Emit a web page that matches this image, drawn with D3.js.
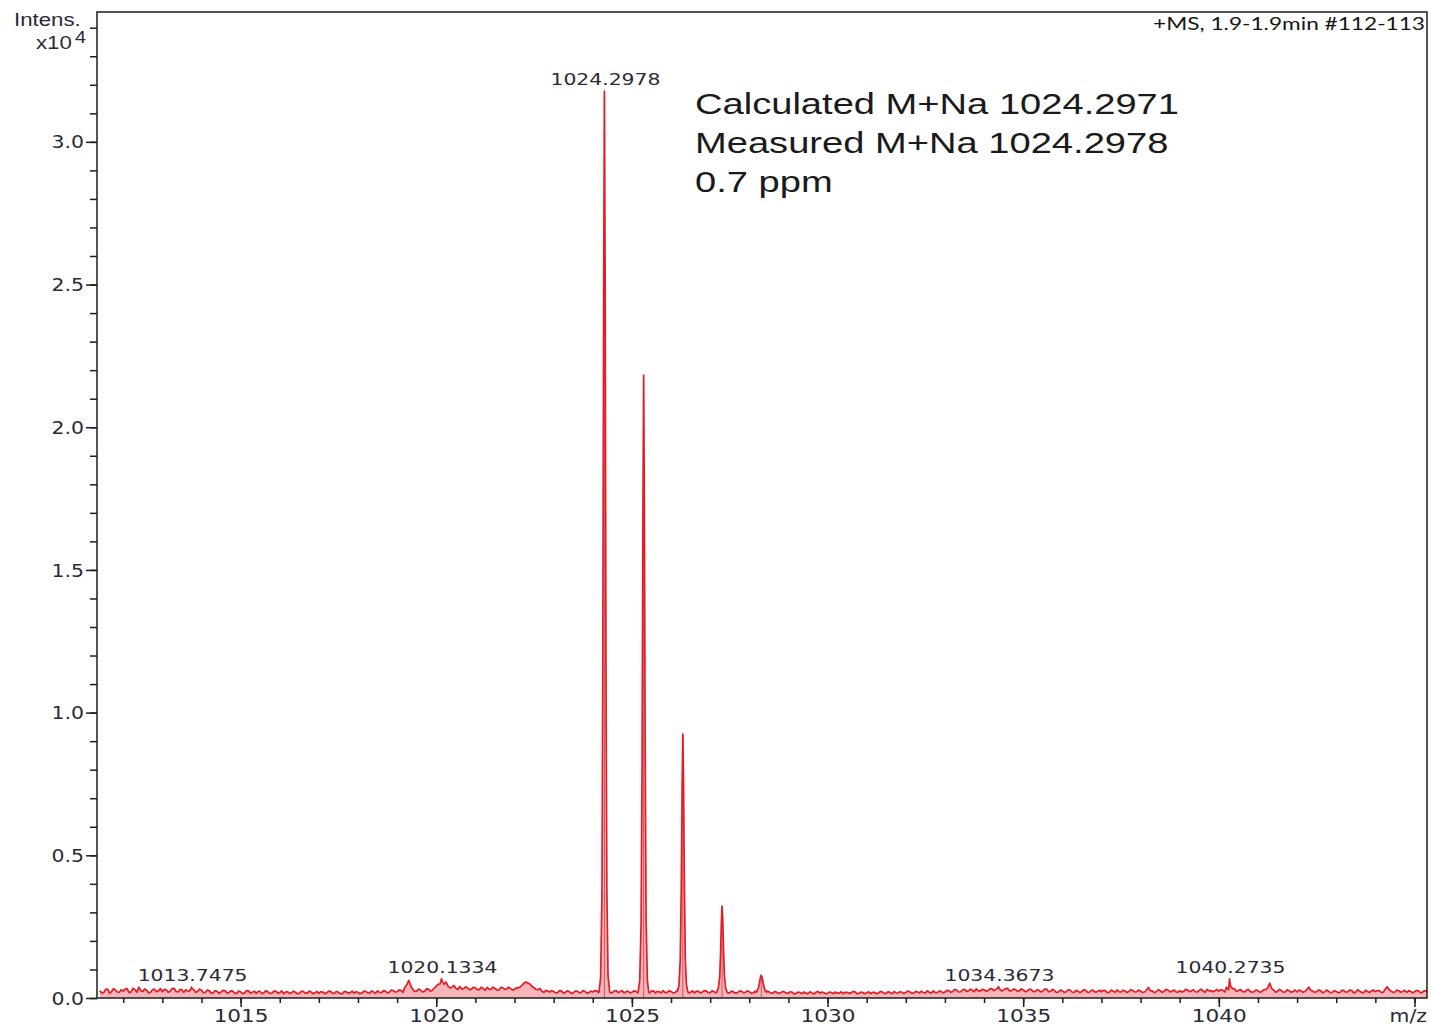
<!DOCTYPE html>
<html>
<head>
<meta charset="utf-8">
<script src="https://cdn.jsdelivr.net/npm/d3@7"></script>
<style>
  body { margin: 0; background: #fff; }
  svg { display: block; }
</style>
</head>
<body>
<svg id="chart" width="1431" height="1028"></svg>
<script>
// ---- Spectrum data (intensity in counts, m/z in Th) ----

// Baseline noise sampled every 0.1 m/z starting at 1011.40
const noiseStartMz = 1011.4;
const noiseStepMz = 0.1;
const baselineNoise = [
  260, 190, 310, 220, 280, 200,
  240, 330, 210, 290, 380, 230, 270, 200, 310, 250,
  220, 290, 240, 340, 210, 280, 290, 250, 300, 230,
  270, 200, 250, 180, 230, 210, 260, 190, 240, 170,
  220, 180, 250, 200, 160, 230, 190, 210, 170, 240,
  190, 150, 220, 180, 200, 160, 230, 170, 210, 180,
  160, 210, 180, 230, 170, 200, 150, 220, 190, 170,
  200, 180, 230, 170, 210, 250, 190, 240, 200, 260,
  220, 270, 380, 620, 300, 240, 280, 230, 310, 270,
  420, 500, 480, 420, 380, 340, 400, 330, 360, 310,
  350, 290, 330, 370, 300, 340, 280, 360, 310, 330,
  300, 350, 460, 560, 480, 360, 290, 240, 270, 210,
  230, 190, 250, 200, 220, 180, 240, 200, 230, 190,
  210, 250, 200, 240, 230, 190, 260, 220, 180, 240,
  200, 230, 190, 250, 210, 240, 180, 220, 260, 200,
  230, 190, 250, 210, 240, 200, 180, 230, 210, 250,
  190, 220, 240, 200, 230, 180, 210, 190, 240, 200,
  220, 180, 230, 210, 190, 220, 170, 200, 180, 210,
  170, 200, 160, 190, 210, 150, 180, 200, 170, 190,
  160, 190, 210, 170, 150, 200, 180, 220, 160, 190,
  180, 150, 200, 170, 210, 160, 190, 230, 170, 200,
  190, 220, 170, 210, 240, 180, 200, 250, 190, 230,
  210, 260, 230, 280, 220, 300, 250, 270, 320, 240,
  290, 260, 330, 300, 310, 280, 340, 260, 300, 250,
  280, 240, 300, 220, 270, 250, 310, 230, 260, 210,
  250, 220, 280, 200, 240, 230, 270, 210, 260, 230,
  220, 260, 200, 240, 280, 210, 250, 230, 270, 220,
  240, 210, 370, 250, 220, 260, 230, 280, 240, 220,
  260, 230, 290, 250, 220, 270, 240, 300, 260, 250,
  240, 280, 380, 420, 320, 260, 230, 270, 240, 220,
  260, 230, 290, 520, 280, 240, 260, 220, 250, 230,
  210, 250, 230, 380, 240, 220, 260, 210, 240, 200,
  230, 200, 250, 220, 260, 210, 240, 190, 230, 250,
  220, 260, 200, 390, 240, 210, 250, 230, 200, 240,
  220, 260, 200, 240
];

// Intermediate noise samples, every 0.1 m/z starting at 1011.45
const noiseMidStartMz = 1011.45;
const baselineNoiseMid = [
  180, 300, 170, 330, 210, 290,
  310, 190, 340, 200, 250, 320, 180, 290, 220, 330,
  300, 200, 330, 230, 300, 200, 240, 330, 200, 310,
  190, 280, 170, 260, 160, 270, 180, 250, 160, 240,
  150, 260, 170, 240, 230, 150, 260, 160, 240, 170,
  250, 210, 160, 240, 150, 230, 170, 240, 150, 230,
  220, 150, 240, 160, 230, 150, 230, 170, 240, 220,
  150, 240, 180, 250, 170, 200, 260, 180, 280, 210,
  280, 200, 470, 420, 230, 310, 210, 320, 240, 350,
  480, 600, 560, 350, 440, 300, 320, 390, 290, 380,
  290, 380, 270, 310, 380, 280, 370, 300, 380, 280,
  360, 400, 530, 520, 400, 300, 330, 200, 240, 260,
  180, 260, 170, 250, 160, 240, 190, 260, 170, 240,
  260, 190, 250, 180, 180, 250, 190, 260, 220, 180,
  250, 180, 260, 190, 180, 250, 230, 180, 190, 250,
  180, 250, 200, 250, 180, 250, 240, 180, 260, 190,
  250, 180, 190, 240, 180, 240, 170, 240, 190, 250,
  170, 240, 190, 250, 240, 170, 230, 160, 230, 170,
  220, 140, 210, 150, 170, 220, 140, 230, 210, 150,
  210, 150, 170, 220, 200, 160, 230, 150, 210, 150,
  220, 200, 150, 230, 160, 220, 150, 180, 220, 160,
  240, 170, 230, 180, 190, 250, 170, 200, 240, 180,
  270, 200, 300, 210, 290, 230, 310, 220, 260, 300,
  240, 320, 260, 350, 250, 330, 250, 310, 240, 320,
  220, 300, 230, 290, 210, 310, 220, 300, 200, 280,
  200, 290, 210, 270, 190, 290, 200, 280, 200, 270,
  270, 190, 280, 200, 220, 270, 190, 290, 210, 280,
  200, 280, 250, 190, 290, 200, 300, 210, 280, 200,
  210, 300, 220, 290, 210, 310, 200, 250, 220, 300,
  290, 210, 290, 330, 230, 300, 210, 300, 200, 280,
  200, 290, 360, 330, 200, 300, 200, 290, 200, 280,
  280, 200, 300, 270, 200, 280, 190, 280, 190, 260,
  190, 280, 200, 280, 180, 290, 200, 270, 190, 280,
  260, 200, 300, 300, 200, 280, 200, 270, 250, 180,
  260, 190, 260, 200
];

// Isotope cluster apexes [m/z, intensity]
const isotopeApex = [
  [1024.2978, 31780],
  [1025.3000, 21830],
  [1026.3020, 9250],
  [1027.3040, 3220],
  [1028.3060, 800]
];

// Profile points across each isotope peak [m/z, intensity]
const profileM0 = [
  [1024.16, 230], [1024.20, 700], [1024.235, 3600], [1024.255, 11000], [1024.278, 24500],
  [1024.2978, 31780], [1024.317, 25000], [1024.338, 11500], [1024.36, 3800],
  [1024.39, 800], [1024.43, 240]
];
const profileM1 = [
  [1025.16, 220], [1025.20, 600], [1025.235, 2600], [1025.26, 8200], [1025.282, 17000],
  [1025.300, 21830], [1025.318, 17500], [1025.34, 8600], [1025.363, 2800],
  [1025.395, 620], [1025.43, 210]
];
const profileM2 = [
  [1026.16, 230], [1026.20, 420], [1026.235, 1300], [1026.262, 3900], [1026.284, 7400],
  [1026.302, 9250], [1026.32, 7500], [1026.342, 4000], [1026.365, 1350],
  [1026.395, 450], [1026.43, 220]
];
const profileM3 = [
  [1027.17, 210], [1027.21, 360], [1027.245, 760], [1027.268, 1650], [1027.287, 2700],
  [1027.304, 3220], [1027.322, 2750], [1027.342, 1700], [1027.365, 780],
  [1027.395, 360], [1027.43, 220]
];
const profileM4 = [
  [1028.18, 200], [1028.23, 340], [1028.26, 540], [1028.285, 730], [1028.306, 800],
  [1028.33, 710], [1028.36, 490], [1028.40, 280], [1028.44, 200]
];

// Annotated peaks [m/z, intensity]
const labelledPeaks = [
  [1013.7475, 380],
  [1020.1334, 670],
  [1024.2978, 31780],
  [1034.3673, 400],
  [1040.2735, 670]
];

// Axis ticks
const xMajorTicks = [1015, 1020, 1025, 1030, 1035, 1040, 1045];
const xTickLabels = ["1015", "1020", "1025", "1030", "1035", "1040", ""];
const yMajorTicks = [0, 5000, 10000, 15000, 20000, 25000, 30000];
const yTickLabels = ["0.0", "0.5", "1.0", "1.5", "2.0", "2.5", "3.0"];

const annotationLines = [
  "Calculated M+Na 1024.2971",
  "Measured M+Na 1024.2978",
  "0.7 ppm"
];
const scanInfo = "+MS, 1.9-1.9min #112-113";

// ---- Layout ----
const plot = { left: 97, top: 12, right: 1427, bottom: 998 };
const svg = d3.select("#chart");

const x = d3.scaleLinear().domain([1011.33, 1045.32]).range([plot.left, plot.right]);
const y = d3.scaleLinear().domain([0, 34550]).range([plot.bottom, plot.top]);

// Horizontal stretch applied to the text to follow the wide lettering
function stretch(sel, k) {
  sel.each(function () {
    const w = this.getComputedTextLength();
    this.setAttribute("textLength", w * k);
    this.setAttribute("lengthAdjust", "spacingAndGlyphs");
  });
  return sel;
}

// Assemble the spectrum trace
const profiles = [profileM0, profileM1, profileM2, profileM3, profileM4];
const outsideIsotopes = p => !isotopeApex.some(a => Math.abs(p[0] - a[0]) < 0.14);
const noisePts = baselineNoise.map((v, i) => [noiseStartMz + i * noiseStepMz, v])
  .concat(baselineNoiseMid.map((v, i) => [noiseMidStartMz + i * noiseStepMz, v]))
  .filter(outsideIsotopes);
const extraPts = labelledPeaks.filter(p => !isotopeApex.some(a => Math.abs(p[0] - a[0]) < 0.001));
const spectrum = noisePts.concat(...profiles, extraPts).sort((a, b) => a[0] - b[0]);

svg.append("defs").append("clipPath").attr("id", "plotClip")
  .append("rect")
  .attr("x", plot.left).attr("y", plot.top)
  .attr("width", plot.right - plot.left).attr("height", plot.bottom - plot.top);

const traceG = svg.append("g").attr("clip-path", "url(#plotClip)");

traceG.append("path")
  .datum(spectrum)
  .attr("fill", "rgba(236, 70, 80, 0.40)")
  .attr("d", d3.area().x(d => x(d[0])).y0(y(0)).y1(d => y(d[1])));

traceG.selectAll("line.stick")
  .data(isotopeApex)
  .join("line")
  .attr("class", "stick")
  .attr("x1", d => x(d[0])).attr("x2", d => x(d[0]))
  .attr("y1", y(0)).attr("y2", d => y(d[1]))
  .attr("stroke", "#b8303c")
  .attr("stroke-width", 1)
  .attr("opacity", 0.7);

traceG.append("path")
  .datum(spectrum)
  .attr("fill", "none")
  .attr("stroke", "#e31d27")
  .attr("stroke-width", 1.7)
  .attr("stroke-linejoin", "round")
  .attr("d", d3.line().x(d => x(d[0])).y(d => y(d[1])));

// ---- Frame and axes ----
const axisColor = "#1e1e1e";
svg.append("rect")
  .attr("x", plot.left).attr("y", plot.top)
  .attr("width", plot.right - plot.left).attr("height", plot.bottom - plot.top)
  .attr("fill", "none").attr("stroke", axisColor).attr("stroke-width", 1.5);

// x axis
const xAxis = svg.append("g").attr("transform", `translate(0,${plot.bottom})`)
  .call(d3.axisBottom(x).tickValues(d3.range(1012, 1046)).tickSize(5).tickFormat(""));
xAxis.select(".domain").remove();
xAxis.selectAll("line").attr("stroke", axisColor).attr("stroke-width", 1.5);

const xMajor = svg.append("g").attr("transform", `translate(0,${plot.bottom})`)
  .call(d3.axisBottom(x).tickValues(xMajorTicks).tickSize(9)
    .tickFormat((d, i) => xTickLabels[i]));
xMajor.select(".domain").remove();
xMajor.selectAll("line").attr("stroke", axisColor).attr("stroke-width", 1.5);
xMajor.selectAll("text")
  .attr("y", 24).attr("dy", 0)
  .attr("fill", "#2a2a35")
  .attr("font-family", "DejaVu Sans")
  .attr("font-size", 17)
  .call(stretch, 1.27);

// y axis
const yAxis = svg.append("g").attr("transform", `translate(${plot.left},0)`)
  .call(d3.axisLeft(y).tickValues(d3.range(0, 34001, 1000)).tickSize(7).tickFormat(""));
yAxis.select(".domain").remove();
yAxis.selectAll("line").attr("stroke", axisColor).attr("stroke-width", 1.5);

const yMajor = svg.append("g").attr("transform", `translate(${plot.left},0)`)
  .call(d3.axisLeft(y).tickValues(yMajorTicks).tickSize(11)
    .tickFormat((d, i) => yTickLabels[i]));
yMajor.select(".domain").remove();
yMajor.selectAll("line").attr("stroke", axisColor).attr("stroke-width", 1.5);
yMajor.selectAll("text")
  .attr("x", -13).attr("dy", "0.36em")
  .attr("fill", "#2a2a35")
  .attr("font-family", "DejaVu Sans")
  .attr("font-size", 17)
  .call(stretch, 1.2);

// Axis titles
svg.append("text")
  .attr("x", 14).attr("y", 26)
  .attr("font-family", "Liberation Sans").attr("font-size", 17.5)
  .attr("fill", "#2a2a35")
  .text("Intens.")
  .call(stretch, 1.27);
svg.append("text")
  .attr("x", 36).attr("y", 49)
  .attr("font-family", "Liberation Sans").attr("font-size", 17.5)
  .attr("fill", "#2a2a35")
  .text("x10")
  .call(stretch, 1.27);
svg.append("text")
  .attr("x", 75).attr("y", 43)
  .attr("font-family", "Liberation Sans").attr("font-size", 16.5)
  .attr("fill", "#2a2a35")
  .text("4")
  .call(stretch, 1.2);
svg.append("text")
  .attr("x", plot.right).attr("y", 1022)
  .attr("text-anchor", "end")
  .attr("font-family", "DejaVu Sans").attr("font-size", 17)
  .attr("fill", "#2a2a35")
  .text("m/z")
  .call(stretch, 1.2);

// Scan information
svg.append("text")
  .attr("x", 1425).attr("y", 30)
  .attr("text-anchor", "end")
  .attr("font-family", "Lato").attr("font-size", 17)
  .attr("fill", "#151515")
  .attr("textLength", 272)
  .attr("lengthAdjust", "spacingAndGlyphs")
  .text(scanInfo);

// Peak labels
svg.selectAll("text.peak")
  .data(labelledPeaks)
  .join("text")
  .attr("class", "peak")
  .attr("x", d => x(d[0]) + 1)
  .attr("y", d => y(d[1]) - 6)
  .attr("text-anchor", "middle")
  .attr("font-family", "DejaVu Sans").attr("font-size", 16)
  .attr("fill", "#2a2a35")
  .text(d => d[0].toFixed(4))
  .call(stretch, 1.27);

// Mass accuracy annotation
svg.selectAll("text.note")
  .data(annotationLines)
  .join("text")
  .attr("class", "note")
  .attr("x", 695)
  .attr("y", (d, i) => 114 + i * 39)
  .attr("font-family", "Liberation Sans").attr("font-size", 30)
  .attr("fill", "#1a1a1a")
  .text(d => d)
  .call(stretch, 1.27);
</script>
</body>
</html>
